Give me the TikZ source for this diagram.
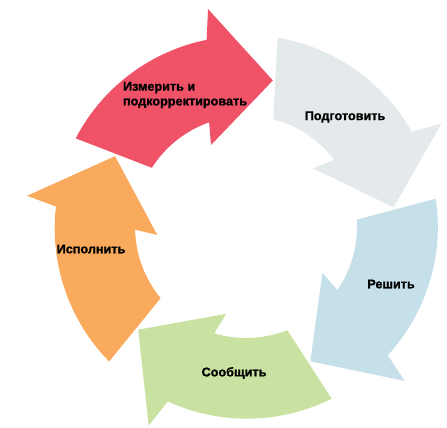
\documentclass[tikz,border=0pt]{standalone}
\usepackage{fontspec}
\setmainfont{Liberation Sans}[BoldFeatures={FakeBold=1.3}]

\definecolor{measurered}{RGB}{240,82,104}
\definecolor{preparegray}{RGB}{228,233,235}
\definecolor{decideblue}{RGB}{197,224,233}
\definecolor{informgreen}{RGB}{201,226,161}
\definecolor{executeorange}{RGB}{250,170,92}

\begin{document}
\begin{tikzpicture}[
  scale=0.02,
  lbl/.style={font=\bfseries\fontsize{7.2}{8.4}\selectfont, text=black, align=left, inner sep=0pt},
  arrowshape/.style={insert path={(152.5:192) arc[start angle=152.5, end angle=101.4, radius=190]
    -- (-38,218) -- (79.6:149) -- (-35,82) -- (109.4:111)
    arc[start angle=109.4, end angle=147.5, radius=112] -- cycle}}
]
\clip (-246,-200) rectangle (201,227);

% five curved arrows, clockwise
\fill[measurered] [arrowshape];
\fill[preparegray, rotate=-72] [arrowshape];
\fill[decideblue, rotate=-144] [arrowshape];
\fill[informgreen, rotate=-216] [arrowshape];
\fill[executeorange, rotate=-288] [arrowshape];

\node[lbl] (measure) at (-61,132) {Измерить и\\подкорректировать};
\node[lbl] (prepare) at (99,110) {Подготовить};
\node[lbl] (decide) at (145,-57) {Решить};
\node[lbl] (inform) at (-12,-146) {Сообщить};
\node[lbl] (execute) at (-155,-22) {Исполнить};
\end{tikzpicture}
\end{document}
